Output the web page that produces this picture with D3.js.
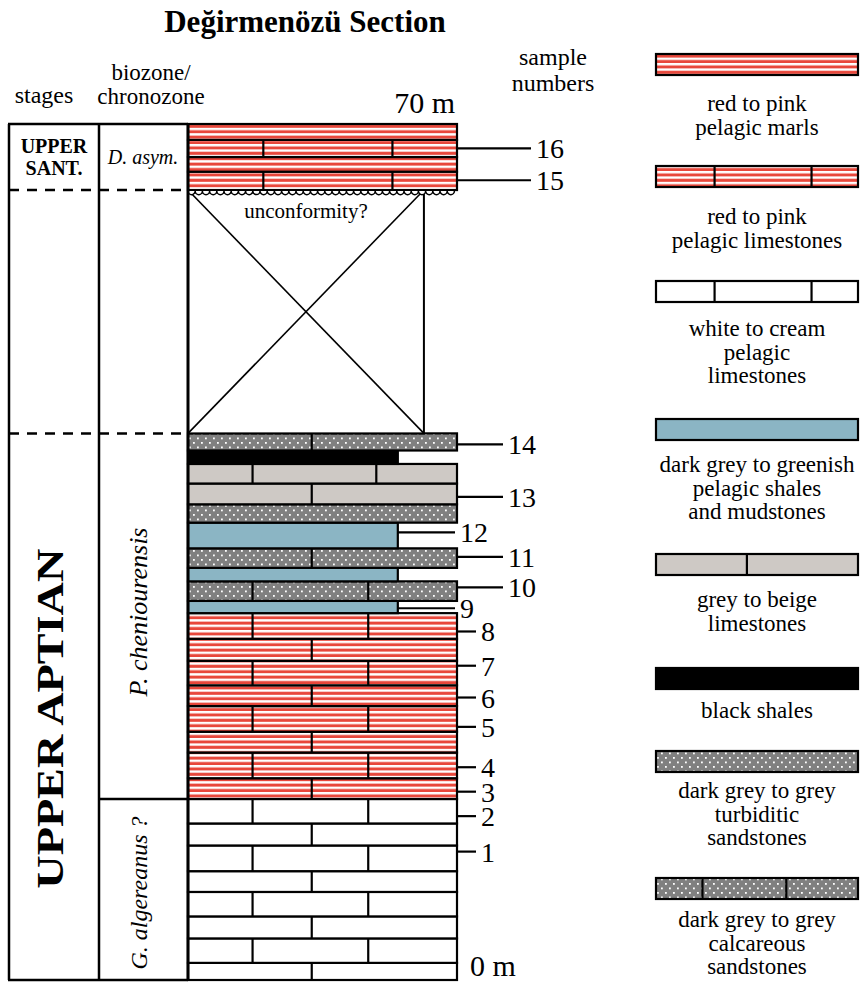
<!DOCTYPE html>
<html>
<head>
<meta charset="utf-8">
<script src="https://cdn.jsdelivr.net/npm/d3@7"></script>
<style>
  body { margin: 0; background: #fff; }
  svg text { font-family: "Liberation Serif", "Times New Roman", "DejaVu Serif", serif; }
</style>
</head>
<body>
<svg id="chart" width="861" height="984"></svg>
<script>
// bed boundaries in metres (bottom -> top)
const bedBounds = [0, 1.4, 3.4, 5.2, 7.2, 8.9, 11.0, 12.8, 14.8, 16.5, 18.6, 20.3, 22.4, 24.1,
  26.1, 27.9, 30.0, 31.0, 32.6, 33.7, 35.3, 37.4, 38.9, 40.6, 42.2, 43.3, 44.7, 64.6, 66.1, 67.3, 68.7, 70];
// lithology of each bed
const bedLith = ["wl","wl","wl","wl","wl","wl","wl","wl",
  "rl","rl","rl","rl","rl","rl","rl","rl",
  "sh","cs","sh","cs","sh","ts","gl","gl","bs","cs","gap",
  "rl","rm","rl","rm"];
// number of bricks per bed
const bedBricks = [2,3,2,3,2,3,2,3, 2,3,2,3,2,3,2,3, 1,3,1,2,1,1,2,3,1,2,0, 3,1,3,1];

const sampleIds = [1,2,3,4,5,6,7,8,9,10,11,12,13,14,15,16];
const sampleDepth = [10.5,13.4,15.4,17.4,20.7,23.1,25.7,28.5,30.4,32.1,34.6,36.6,39.5,43.8,65.4,68.0];

const stageNames = ["UPPER APTIAN", "UPPER SANT."];
const stageRange = [[0, 44.7], [64.6, 70]];
const zoneNames = ["G. algereanus ?", "P. cheniourensis", "D. asym."];
const zoneRange = [[0, 14.8], [14.8, 44.7], [64.6, 70]];

const legendLith = ["rm","rl","wl","sh","gl","bs","ts","cs"];
const legendText = [
  ["red to pink", "pelagic marls"],
  ["red to pink", "pelagic limestones"],
  ["white to cream", "pelagic", "limestones"],
  ["dark grey to greenish", "pelagic shales", "and mudstones"],
  ["grey to beige", "limestones"],
  ["black shales"],
  ["dark grey to grey", "turbiditic", "sandstones"],
  ["dark grey to grey", "calcareous", "sandstones"]
];

const FONT = "'Liberation Serif', 'Times New Roman', 'DejaVu Serif', serif";
const svg = d3.select("#chart").attr("font-family", FONT);
const y = d3.scaleLinear().domain([0, 70]).range([980, 124]);
const x = d3.scaleLinear().domain([0, 1]).range([188, 457]);

const RED = "#e8473b", BLUE = "#8bb5c4", BEIGE = "#cec9c5", DOTG = "#808080";

// patterns
const defs = svg.append("defs");
const stripes = defs.append("pattern").attr("id", "stripes")
  .attr("patternUnits", "userSpaceOnUse").attr("width", 10).attr("height", 5.4);
stripes.append("rect").attr("width", 10).attr("height", 5.4).attr("fill", "#fff");
stripes.append("rect").attr("y", 0.6).attr("width", 10).attr("height", 3).attr("fill", RED);
const dots = defs.append("pattern").attr("id", "dots")
  .attr("patternUnits", "userSpaceOnUse").attr("width", 8).attr("height", 9);
dots.append("rect").attr("width", 8).attr("height", 9).attr("fill", DOTG);
dots.append("rect").attr("x", 1).attr("y", 1).attr("width", 1.8).attr("height", 1.8).attr("fill", "#fff");
dots.append("rect").attr("x", 5).attr("y", 5.5).attr("width", 1.8).attr("height", 1.8).attr("fill", "#fff");

const lithStyle = {
  wl: {fill: "#fff", w: 1},
  rl: {fill: "url(#stripes)", w: 1},
  rm: {fill: "url(#stripes)", w: 1},
  sh: {fill: BLUE, w: 0.78},
  gl: {fill: BEIGE, w: 1},
  bs: {fill: "#000", w: 0.78},
  ts: {fill: "url(#dots)", w: 1},
  cs: {fill: "url(#dots)", w: 1},
  gap: {fill: "#fff", w: 0.877}
};

const beds = bedLith.map((l, i) => ({
  lith: l, bottom: bedBounds[i], top: bedBounds[i + 1], bricks: bedBricks[i]
}));

function joints(d) {
  if (d.bricks === 3) return d.bottom > 60 ? [0.28, 0.76] : (d.lith === "gl" ? [0.24, 0.70] : [0.24, 0.67]);
  if (d.bricks === 2) return [0.46];
  return [];
}

function label(sel, txt, size) {
  return sel.append("text").attr("font-family", FONT).attr("font-size", size).text(txt);
}

// title
label(svg, "Değirmenözü Section", 31).attr("x", 305).attr("y", 32)
  .attr("text-anchor", "middle").attr("font-weight", "bold");

// headers
label(svg, "stages", 24).attr("x", 44).attr("y", 103).attr("text-anchor", "middle");
label(svg, "biozone/", 23).attr("x", 151).attr("y", 80).attr("text-anchor", "middle");
label(svg, "chronozone", 23).attr("x", 151).attr("y", 104).attr("text-anchor", "middle");
label(svg, "sample", 24).attr("x", 553).attr("y", 65).attr("text-anchor", "middle");
label(svg, "numbers", 24).attr("x", 553).attr("y", 91).attr("text-anchor", "middle");
label(svg, "70 m", 30).attr("x", 455).attr("y", 113).attr("text-anchor", "end");
label(svg, "0 m", 30).attr("x", 470).attr("y", 976);

// beds
const g = svg.append("g");
const bedG = g.selectAll("g.bed").data(beds).join("g").attr("class", "bed");
bedG.append("rect")
  .attr("x", x(0))
  .attr("y", d => y(d.top))
  .attr("width", d => x(lithStyle[d.lith].w) - x(0))
  .attr("height", d => y(d.bottom) - y(d.top))
  .attr("fill", d => lithStyle[d.lith].fill)
  .attr("stroke", "#000").attr("stroke-width", d => d.lith === "gap" ? 2 : 2.2);
bedG.selectAll("line.joint").data(d => joints(d).map(f => ({f, d}))).join("line")
  .attr("class", "joint")
  .attr("x1", j => x(j.f)).attr("x2", j => x(j.f))
  .attr("y1", j => y(j.d.top)).attr("y2", j => y(j.d.bottom))
  .attr("stroke", "#000").attr("stroke-width", 2.2);

// gap: crossed box
const gap = beds.find(d => d.lith === "gap");
const gx1 = x(lithStyle.gap.w);
g.append("line").attr("x1", x(0)).attr("y1", y(gap.top)).attr("x2", gx1).attr("y2", y(gap.bottom))
  .attr("stroke", "#000").attr("stroke-width", 1.6);
g.append("line").attr("x1", gx1).attr("y1", y(gap.top)).attr("x2", x(0)).attr("y2", y(gap.bottom))
  .attr("stroke", "#000").attr("stroke-width", 1.6);
label(g, "unconformity?", 21).attr("x", (x(0) + gx1) / 2).attr("y", y(gap.top) + 28)
  .attr("text-anchor", "middle");

// unconformity wave
const r = 3.6, n = Math.floor((x(1) - x(0)) / (2 * r));
let wave = `M${x(0)},${y(gap.top) + 1}`;
for (let i = 0; i < n; i++) wave += ` a${r},${r} 0 0,0 ${2 * r},0`;
g.append("path").attr("d", wave).attr("fill", "#fff").attr("stroke", "#000").attr("stroke-width", 1.5);

// thick left edge of column
g.append("line").attr("x1", x(0)).attr("x2", x(0)).attr("y1", y(0)).attr("y2", y(70))
  .attr("stroke", "#000").attr("stroke-width", 3);

// stage & biozone columns
const sc = svg.append("g").attr("stroke", "#000").attr("stroke-width", 2.5);
sc.append("line").attr("x1", 9).attr("x2", 9).attr("y1", y(70)).attr("y2", y(0));
sc.append("line").attr("x1", 99).attr("x2", 99).attr("y1", y(70)).attr("y2", y(0));
sc.append("line").attr("x1", 8).attr("x2", x(0)).attr("y1", y(70)).attr("y2", y(70));
sc.append("line").attr("x1", 8).attr("x2", x(0)).attr("y1", y(0)).attr("y2", y(0));
[stageRange[1][0], stageRange[0][1]].forEach(m => {
  sc.append("line").attr("x1", 9).attr("x2", x(0)).attr("y1", y(m)).attr("y2", y(m))
    .attr("stroke-dasharray", "10,8");
});
sc.append("line").attr("x1", 99).attr("x2", x(0)).attr("y1", y(zoneRange[0][1])).attr("y2", y(zoneRange[0][1]));

// stage labels
const aptMid = y((stageRange[0][0] + stageRange[0][1]) / 2) + 12;
label(svg, stageNames[0], 38).attr("transform", `translate(63,${aptMid}) rotate(-90)`)
  .attr("text-anchor", "middle").attr("font-weight", "bold")
  .attr("textLength", 340).attr("lengthAdjust", "spacingAndGlyphs");
const santMid = y((stageRange[1][0] + stageRange[1][1]) / 2);
stageNames[1].split(" ").forEach((w, i) => {
  label(svg, w, 20).attr("x", 54).attr("y", santMid - 4 + i * 22).attr("text-anchor", "middle")
    .attr("font-weight", "bold");
});

// biozone labels
label(svg, zoneNames[2], 20).attr("x", 143).attr("y", y(67.3) + 7).attr("text-anchor", "middle")
  .attr("font-style", "italic");
[[0, 893, 24], [1, 612, 26]].forEach(([i, cy, fs]) => {
  label(svg, zoneNames[i], fs).attr("transform", `translate(147,${cy}) rotate(-90)`)
    .attr("text-anchor", "middle").attr("font-style", "italic");
});

// sample numbers
function tickEnd(id) {
  if (id >= 15) return 531;
  if (id === 9 || id === 12) return 455;
  if (id >= 10) return 503;
  return 476;
}
const samples = sampleIds.map((id, i) => {
  const bed = beds.find(b => sampleDepth[i] >= b.bottom && sampleDepth[i] < b.top);
  return {id, depth: sampleDepth[i], x0: x(lithStyle[bed.lith].w)};
});
const sg = svg.append("g").selectAll("g").data(samples).join("g");
sg.append("line").attr("x1", d => d.x0).attr("x2", d => tickEnd(d.id))
  .attr("y1", d => y(d.depth)).attr("y2", d => y(d.depth))
  .attr("stroke", "#000").attr("stroke-width", 2.2);
sg.append("text").attr("font-family", FONT).attr("font-size", 28)
  .attr("x", d => tickEnd(d.id) + 5).attr("y", d => y(d.depth) + 10)
  .text(d => d.id);

// legend
const legendTop = [54, 166, 281, 419, 554, 668, 751, 878];
const legendBase = [111, 224, 336, 472, 607, 718, 798, 927];
const lx = d3.scaleLinear().domain([0, 1]).range([656, 858]);
const legendJoints = {rl: [0.29, 0.77], wl: [0.29, 0.77], gl: [0.45], cs: [0.23, 0.645]};
const lg = svg.append("g").selectAll("g").data(legendLith).join("g");
lg.append("rect").attr("x", lx(0)).attr("y", (d, i) => legendTop[i])
  .attr("width", lx(1) - lx(0)).attr("height", 21)
  .attr("fill", d => lithStyle[d].fill)
  .attr("stroke", "#000").attr("stroke-width", 2.2);
lg.each(function(d, i) {
  const el = d3.select(this);
  (legendJoints[d] || []).forEach(f => {
    el.append("line").attr("x1", lx(f)).attr("x2", lx(f))
      .attr("y1", legendTop[i]).attr("y2", legendTop[i] + 21)
      .attr("stroke", "#000").attr("stroke-width", 2.2);
  });
  legendText[i].forEach((t, k) => {
    label(el, t, 23).attr("x", (lx(0) + lx(1)) / 2).attr("y", legendBase[i] + k * 23.5)
      .attr("text-anchor", "middle");
  });
});
</script>
</body>
</html>
